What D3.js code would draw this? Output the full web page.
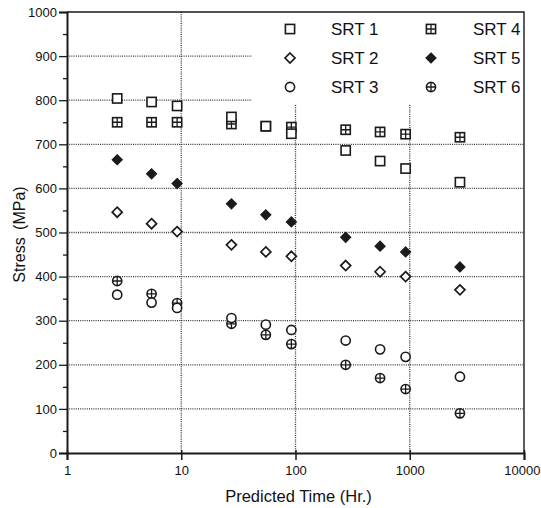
<!DOCTYPE html>
<html>
<head>
<meta charset="utf-8">
<script src="https://cdn.jsdelivr.net/npm/d3@7"></script>
<style>
  html, body { margin: 0; padding: 0; background: #fff; }
  svg { display: block; font-family: "Liberation Sans", Arial, Helvetica, sans-serif; }
</style>
</head>
<body>
<svg id="chart" width="541" height="508"></svg>
<script>
// Predicted rupture times (hours) shared by all series
const times = [2.75, 5.5, 9.2, 27.5, 55, 92, 275, 550, 920, 2750];

// Stress (MPa) for each SRT condition
const srt1 = [804, 796, 787, 762, 741, 724, 686, 662, 645, 614];
const srt2 = [546, 520, 502, 472, 456, 446, 425, 411, 400, 370];
const srt3 = [359, 341, 329, 306, 291, 279, 255, 235, 218, 173];
const srt4 = [750, 750, 750, 746, 741, 739, 733, 728, 723, 716];
const srt5 = [665, 633, 611, 565, 540, 524, 489, 469, 456, 422];
const srt6 = [390, 361, 340, 293, 268, 247, 200, 170, 145, 90];

const seriesNames = ["SRT 1", "SRT 2", "SRT 3", "SRT 4", "SRT 5", "SRT 6"];
const seriesValues = [srt1, srt2, srt3, srt4, srt5, srt6];
const seriesSymbols = ["square", "diamond", "circle", "squarePlus", "diamondFilled", "circlePlus"];

const xTicks = [1, 10, 100, 1000, 10000];
const yTicks = [0, 100, 200, 300, 400, 500, 600, 700, 800, 900, 1000];
const yMinorTicks = [50, 150, 250, 350, 450, 550, 650, 750, 850, 950];

const svg = d3.select("#chart");
const plotLeft = 67, plotRight = 524, plotTop = 12, plotBottom = 453;

const x = d3.scaleLog().domain([1, 10000]).range([plotLeft, plotRight]);
const y = d3.scaleLinear().domain([0, 1000]).range([plotBottom, plotTop]);

// Area reserved for the legend in the upper right: grid stops at its edge
const legendLeft = 252, legendBottom = 105;

const ink = "#1a1a1a";
const grid = svg.append("g")
  .attr("stroke", "#333")
  .attr("stroke-width", 1.3)
  .attr("stroke-dasharray", "1,1.2");

// horizontal grid
yTicks.filter(v => v > 0 && v < 1000).forEach(v => {
  const x2 = v >= 800 ? legendLeft : plotRight;
  grid.append("line")
    .attr("x1", plotLeft).attr("x2", x2)
    .attr("y1", y(v)).attr("y2", y(v));
});

// vertical grid
xTicks.filter(v => v > 1 && v < 10000).forEach(v => {
  const y1 = v === 10 ? plotTop : legendBottom;
  grid.append("line")
    .attr("x1", x(v)).attr("x2", x(v))
    .attr("y1", y1).attr("y2", plotBottom);
});

// frame: top and right edges
svg.append("path")
  .attr("d", `M${plotLeft},${plotTop}H${plotRight}V${plotBottom}`)
  .attr("fill", "none").attr("stroke", ink).attr("stroke-width", 1.4);

// Y axis
const yAxis = d3.axisLeft(y).tickValues(yTicks).tickSize(8).tickPadding(2).tickFormat(d3.format("d"));
const gy = svg.append("g").attr("transform", `translate(${plotLeft},0)`).call(yAxis);
gy.select(".domain").attr("stroke", ink).attr("stroke-width", 2);
gy.selectAll(".tick line").attr("stroke", ink).attr("stroke-width", 1.3);
gy.selectAll(".tick text").attr("font-size", 13).attr("fill", "#111")
  .attr("font-family", "Liberation Sans, Arial, sans-serif");

const yMinor = d3.axisLeft(y).tickValues(yMinorTicks).tickSize(4).tickFormat("");
const gym = svg.append("g").attr("transform", `translate(${plotLeft},0)`).call(yMinor);
gym.select(".domain").remove();
gym.selectAll(".tick line").attr("stroke", ink).attr("stroke-width", 1.3);

// X axis
const xAxis = d3.axisBottom(x).tickValues(xTicks).tickSize(7).tickPadding(6).tickFormat(d3.format("d"));
const gx = svg.append("g").attr("transform", `translate(0,${plotBottom})`).call(xAxis);
gx.select(".domain").attr("stroke", ink).attr("stroke-width", 2);
gx.selectAll(".tick line").attr("stroke", ink).attr("stroke-width", 1.5)
  .attr("y1", -3);
gx.selectAll(".tick text").attr("font-size", 13).attr("fill", "#111")
  .attr("font-family", "Liberation Sans, Arial, sans-serif");
// keep the last label inside the page edge
gx.selectAll(".tick text").filter(d => d === 10000)
  .attr("text-anchor", "end").attr("x", 540 - plotRight);

// axis titles
svg.append("text")
  .attr("x", (plotLeft + plotRight) / 2 + 3).attr("y", 502)
  .attr("text-anchor", "middle").attr("font-size", 16.5).attr("fill", "#111")
  .text("Predicted Time (Hr.)");

svg.append("text")
  .attr("transform", `translate(25,${(plotTop + plotBottom) / 2 + 2}) rotate(-90)`)
  .attr("text-anchor", "middle").attr("font-size", 16).attr("fill", "#111")
  .attr("word-spacing", 3)
  .text("Stress (MPa)");

// marker drawing
function drawMarker(g, type, cx, cy) {
  const s = 4.6;
  const m = g.append("g").attr("transform", `translate(${cx},${cy})`)
    .attr("stroke", ink).attr("stroke-width", 1.6);
  if (type === "square" || type === "squarePlus") {
    m.append("rect").attr("x", -s).attr("y", -s).attr("width", 2 * s).attr("height", 2 * s)
      .attr("fill", "#fff");
    if (type === "squarePlus") {
      m.append("path").attr("d", `M${-s},0H${s}M0,${-s}V${s}`).attr("stroke-width", 1.3);
    }
  } else if (type === "diamond" || type === "diamondFilled") {
    const d = 5;
    m.append("path").attr("d", `M0,${-d}L${d},0L0,${d}L${-d},0Z`)
      .attr("fill", type === "diamondFilled" ? ink : "#fff")
      .attr("stroke-width", type === "diamondFilled" ? 1.2 : 1.7);
  } else {
    m.append("circle").attr("r", s).attr("fill", "#fff");
    if (type === "circlePlus") {
      m.append("path").attr("d", `M${-s},0H${s}M0,${-s}V${s}`).attr("stroke-width", 1.3);
    }
  }
}

// data points: draw later series first so SRT 1 sits on top
const pts = svg.append("g");
for (let i = seriesValues.length - 1; i >= 0; i--) {
  const vals = seriesValues[i];
  vals.forEach((v, j) => drawMarker(pts, seriesSymbols[i], x(times[j]), y(v)));
}

// legend
const legend = svg.append("g");
const legendCols = [{ sym: 290, txt: 331 }, { sym: 431, txt: 473 }];
const legendRows = [29, 58, 87];
seriesNames.forEach((name, i) => {
  const col = legendCols[Math.floor(i / 3)];
  const row = legendRows[i % 3];
  drawMarker(legend, seriesSymbols[i], col.sym, row);
  legend.append("text")
    .attr("x", col.txt).attr("y", row + 6)
    .attr("font-size", 17).attr("fill", "#111")
    .text(name);
});
</script>
</body>
</html>
